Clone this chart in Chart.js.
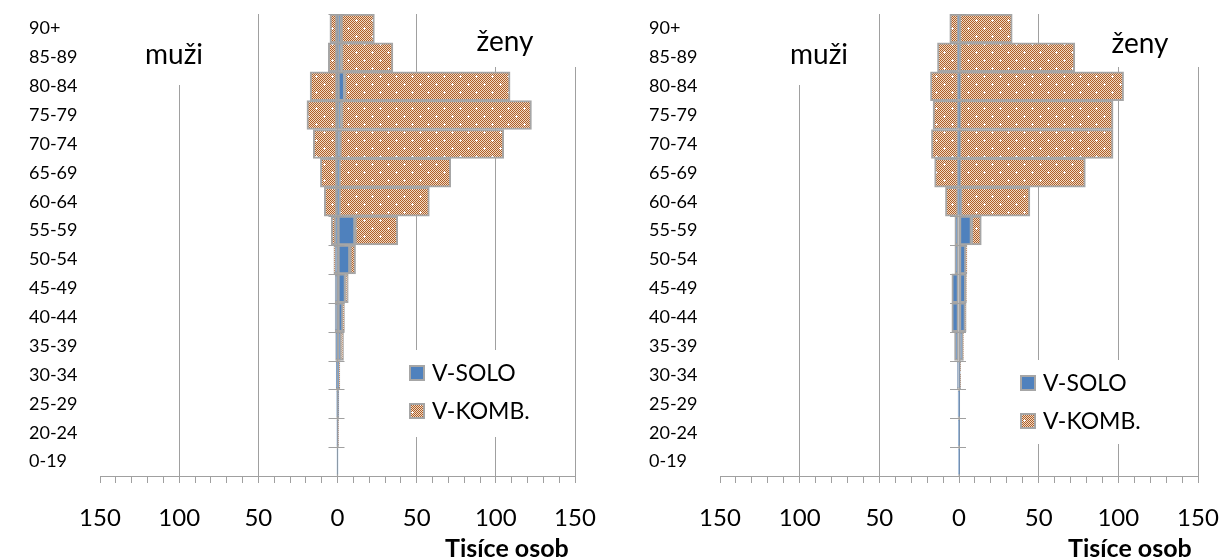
<!DOCTYPE html>
<html>
<head>
<meta charset="utf-8">
<script src="https://cdn.jsdelivr.net/npm/chart.js@4"></script>
<style>
    body { margin: 0; background: #fff; overflow: hidden; }
    .box { position: absolute; top: 0; height: 560px; }
</style>
</head>
<body>
<div class="box" style="left:0;width:605px"><canvas id="chartA"></canvas></div>
<div class="box" style="left:620px;width:600px"><canvas id="chartB"></canvas></div>
<script>
// Age groups, top to bottom
const ages = ['90+', '85-89', '80-84', '75-79', '70-74', '65-69', '60-64', '55-59', '50-54', '45-49', '40-44', '35-39', '30-34', '25-29', '20-24', '0-19'];

// Left chart (thousands, men negative)
const menSoloA   = [-0.3, -0.3, -0.3, -0.3, -0.3, -0.3, -0.3, -1, -1.5, -1.5, -1.5, -1.2, -0.8, -0.5, -0.4, -0.3];
const menKombA   = [-4.5, -5.5, -17, -19, -15, -10.5, -8, -3, -0.8, 0, 0, 0, 0, 0, 0, 0];
const womenSoloA = [2.3, 2.5, 4.5, 2.5, 1.5, 1, 1, 11, 7.8, 5, 3.4, 2, 1, 0.6, 0.4, 0.3];
const womenKombA = [21, 32.5, 104.5, 120, 103.5, 70.5, 57, 27, 3.6, 1.8, 1, 1.8, 0.5, 0.3, 0.2, 0];

// Right chart
const menSoloB   = [-0.3, -0.3, -0.3, -0.3, -0.3, -0.3, -0.5, -2.6, -2.6, -4.5, -4.5, -2.8, -1, -0.6, -0.4, -0.3];
const menKombB   = [-5.5, -13.2, -17.6, -16, -17, -15, -8, 0, 0, 0, 0, 0, 0, 0, 0, 0];
const womenSoloB = [0, 0, 0.3, 0.3, 0.3, 0.3, 1, 7.8, 4.3, 4.2, 4, 2.4, 0.8, 0.5, 0.3, 0.2];
const womenKombB = [33.4, 72.7, 103, 96.4, 96.4, 79, 43.5, 6.2, 0.7, 0.5, 0.5, 0.4, 0.2, 0, 0, 0];

const seriesNames = ['V-SOLO', 'V-KOMB.'];
const sideNames = ['muži', 'ženy'];

const BLUE = '#4f81bd';
const EDGE = '#a6a6a6';
const GRID = '#a0a0a0';
const FONT = 'Lato, "Open Sans", sans-serif';

// checkered orange fill with white sparkles
function makePattern() {
    const c = document.createElement('canvas');
    c.width = 16; c.height = 16;
    const g = c.getContext('2d');
    g.fillStyle = '#f2dac2';
    g.fillRect(0, 0, 16, 16);
    g.fillStyle = '#ad5e2a';
    for (let y = 0; y < 16; y++) {
        for (let x = 0; x < 16; x++) {
            if ((x + y) % 2 === 0) g.fillRect(x, y, 1, 1);
        }
    }
    g.fillStyle = '#ffffff';
    [[4, 4], [12, 12]].forEach(([x, y]) => {
        g.fillRect(x - 1, y, 3, 1);
        g.fillRect(x, y - 1, 1, 3);
    });
    return g.createPattern(c, 'repeat');
}
const ORANGE = makePattern();

// scales should not push the plot area inwards
function noPadding(s) {
    s.paddingLeft = 0;
    s.paddingRight = 0;
    s.paddingTop = 0;
    s.paddingBottom = 0;
}

// white text boxes and legend, drawn over the grid but under the bars
function overlayPlugin(marks) {
    return {
        id: 'overlay',
        beforeDatasetsDraw(chart) {
            const ctx = chart.ctx;
            ctx.save();
            ctx.fillStyle = '#fff';
            marks.covers.forEach(r => ctx.fillRect(r[0], r[1], r[2], r[3]));
            ctx.fillStyle = '#000';
            ctx.textBaseline = 'middle';
            ctx.textAlign = 'center';
            ctx.font = '28px ' + FONT;
            marks.notes.forEach((n, i) => ctx.fillText(sideNames[i], n[0], n[1]));

            // legend
            ctx.textAlign = 'left';
            ctx.font = '23px ' + FONT;
            const fills = [BLUE, ORANGE];
            seriesNames.forEach((name, i) => {
                const x = marks.legend[0];
                const y = marks.legend[1] + i * 38;
                ctx.fillStyle = fills[i];
                ctx.fillRect(x, y - 8, 16, 16);
                ctx.strokeStyle = EDGE;
                ctx.lineWidth = 2;
                ctx.strokeRect(x + 1, y - 7, 14, 14);
                ctx.fillStyle = '#000';
                ctx.fillText(name, x + 23, y + 1);
            });
            ctx.restore();
        },
        afterDatasetsDraw(chart) {
            // cross tick marks on the zero axis between age groups
            const ctx = chart.ctx;
            const x0 = chart.scales.x.getPixelForValue(0);
            const area = chart.chartArea;
            const step = (area.bottom - area.top) / ages.length;
            ctx.save();
            ctx.strokeStyle = GRID;
            ctx.lineWidth = 1;
            ctx.beginPath();
            for (let i = 0; i <= ages.length; i++) {
                const y = Math.round(area.top + i * step) + 0.5;
                ctx.moveTo(x0 - 9, y);
                ctx.lineTo(x0 + 7, y);
            }
            ctx.stroke();
            ctx.restore();
        }
    };
}

function makeChart(id, menSolo, menKomb, womenSolo, womenKomb, marks) {
    const ds = (data, color) => ({
        data: data,
        backgroundColor: color,
        borderColor: EDGE,
        borderWidth: 2,
        borderSkipped: false,
        categoryPercentage: 1,
        barPercentage: 1
    });
    new Chart(document.getElementById(id), {
        type: 'bar',
        data: {
            labels: ages,
            datasets: [
                ds(menSolo, BLUE),
                ds(menKomb, ORANGE),
                ds(womenSolo, BLUE),
                ds(womenKomb, ORANGE)
            ]
        },
        options: {
            indexAxis: 'y',
            responsive: true,
            maintainAspectRatio: false,
            animation: false,
            layout: {
                autoPadding: false,
                padding: { left: 29, right: marks.padRight, top: 14, bottom: 0 }
            },
            plugins: {
                legend: { display: false },
                tooltip: { enabled: false }
            },
            scales: {
                x: {
                    stacked: true,
                    min: -150,
                    max: 150,
                    afterFit: s => { s.height = 84; noPadding(s); },
                    ticks: {
                        stepSize: 10,
                        autoSkip: false,
                        maxRotation: 0,
                        padding: 21,
                        color: '#000',
                        font: { family: FONT, size: 24 },
                        callback: v => (v % 50 === 0 ? Math.abs(v) : '')
                    },
                    grid: {
                        color: c => (c.tick && c.tick.value % 50 === 0 && c.tick.value !== -150 ? GRID : 'rgba(0,0,0,0)'),
                        tickColor: GRID,
                        tickLength: 7
                    },
                    border: { color: GRID },
                    title: {
                        display: true,
                        text: 'Tisíce osob\u2009\u2009',
                        align: 'end',
                        color: '#000',
                        padding: { top: 0, bottom: -4 },
                        font: { family: FONT, size: 25, weight: 'bold' }
                    }
                },
                y: {
                    stacked: true,
                    afterFit: s => { s.width = 71; noPadding(s); },
                    grid: { display: false },
                    border: { display: false },
                    ticks: {
                        crossAlign: 'far',
                        padding: 24,
                        color: '#000',
                        font: { family: FONT, size: 18 }
                    }
                }
            }
        },
        plugins: [overlayPlugin(marks)]
    });
}

makeChart('chartA', menSoloA, menKombA, womenSoloA, womenKombA, {
    padRight: 30,
    covers: [[128, 0, 92, 85], [462, 0, 121, 67], [398, 350, 150, 87]],
    notes: [[174, 55], [505, 42]],
    legend: [409, 373]
});

makeChart('chartB', menSoloB, menKombB, womenSoloB, womenKombB, {
    padRight: 22,
    covers: [[155, 0, 90, 85], [485, 0, 105, 67], [390, 360, 150, 84]],
    notes: [[199, 55], [520, 44]],
    legend: [400, 383]
});
</script>
</body>
</html>
